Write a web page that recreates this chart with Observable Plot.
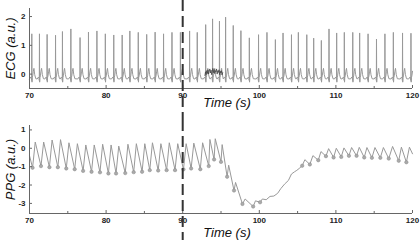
<!DOCTYPE html>
<html><head><meta charset="utf-8">
<script src="https://cdn.jsdelivr.net/npm/d3@7"></script>
<script src="https://cdn.jsdelivr.net/npm/@observablehq/plot@0.6"></script>
<style>
html,body{margin:0;padding:0;background:#fff;}
#wrap{position:relative;width:420px;height:240px;overflow:hidden;font-family:"Liberation Sans",Arial,sans-serif;}
#top,#bot{position:absolute;left:0;width:420px;height:120px;}
#top{top:0}#bot{top:120px}
svg{overflow:visible}
</style></head><body><div id="wrap"><div id="top"></div><div id="bot"></div></div>
<script>
// ---- axes ----
const xDomain = [70, 120];
const xTicks = [70, 80, 90, 100, 110, 120];
const xMinorTicks = [75, 85, 95, 105, 115];
const ecgDomain = [-0.5, 2.28];
const ecgTicks = [0, 1, 2];
const ppgDomain = [-3.55, 1.24];
const ppgTicks = [-3, -2, -1, 0, 1];
const eventTime = [90];
const xLabel = "Time (s)";
const ecgLabel = "ECG (a.u.)";
const ppgLabel = "PPG (a.u.)";

// ---- ECG: R-peak times and heights ----
const ecgBeatT = [70.3,71.3,72.3,73.4,74.3,75.4,76.6,77.7,78.8,79.9,81.0,82.1,83.1,84.2,85.3,86.4,87.5,88.6,89.7,90.9,91.9,93.0,93.9,94.8,95.6,96.6,97.6,98.7,99.9,101.0,102.1,103.1,104.2,105.1,106.2,107.1,108.1,109.1,110.1,111.1,112.2,113.1,114.2,115.3,116.4,117.5,118.7,119.8];
const ecgBeatPeak = [1.40,1.40,1.38,1.35,1.48,1.57,1.27,1.46,1.50,1.40,1.36,1.36,1.50,1.45,1.38,1.46,1.40,1.45,1.45,1.50,1.45,1.72,1.92,1.84,1.98,1.69,1.51,1.26,1.37,1.45,1.20,1.43,1.37,1.45,1.37,1.25,1.17,1.57,1.43,1.45,1.45,1.43,1.40,1.22,1.40,1.45,1.43,1.42];
// beat waveform around each R peak (offset in s, value; null = R peak)
const ecgShapeDt = [-0.30,-0.12,-0.05,-0.02,0,0.025,0.06,0.12,0.20,0.28,0.38,0.52];
const ecgShapeV  = [-0.17,-0.10,-0.14,-0.22,null,-0.28,-0.12,-0.06,0.10,0.20,-0.02,-0.16];
// noisy stretch
const ecgNoiseT = [92.9,92.98,93.06,93.14,93.22,93.3,93.38,93.46,93.54,93.62,93.7,93.78,93.86,93.94,94.02,94.1,94.18,94.26,94.34,94.42,94.5,94.58,94.66,94.74,94.82,94.9,94.98,95.06,95.14,95.22];
const ecgNoiseV = [-0.05,0.08,-0.02,0.12,0.02,0.15,0.0,0.1,0.18,0.04,0.14,-0.02,0.1,0.2,0.05,0.16,0.02,0.12,0.08,0.18,0.0,0.12,0.06,0.15,-0.02,0.1,0.04,0.12,-0.03,0.05];

// ---- PPG ----
const ppgT = [70.0,70.4,70.75,71.5,71.85,72.6,72.95,73.7,74.05,74.8,75.15,75.9,76.25,77.0,77.35,78.1,78.45,79.2,79.55,80.3,80.65,81.3,81.65,82.5,82.85,83.6,83.95,84.7,85.05,85.7,86.05,86.8,87.15,87.9,88.25,89.0,89.35,90.1,90.45,91.1,91.45,92.3,92.6,93.4,93.55,94.1,94.25,95.0,95.15,95.8,96.0,96.7,96.9,97.8,98.15,99.2,99.5,100.1,100.4,100.9,101.4,101.9,102.4,102.8,103.3,103.8,104.2,104.6,104.9,105.2,105.6,105.95,106.6,107.0,107.7,108.05,108.7,109.05,109.7,110.05,110.7,111.05,111.7,112.05,112.7,113.05,113.7,114.05,114.7,115.1,115.8,116.2,116.9,117.4,118.2,118.55,119.2,119.6,120.0];
const ppgV = [-0.40,-1.06,0.34,-0.97,0.34,-1.03,0.45,-1.03,0.47,-1.10,0.30,-1.14,0.25,-1.23,0.18,-1.28,0.18,-1.31,0.22,-1.37,0.18,-1.37,0.12,-1.35,0.22,-1.30,0.25,-1.28,0.25,-1.19,0.30,-1.21,0.25,-1.19,0.30,-1.19,0.25,-1.15,0.25,-1.10,0.28,-1.14,0.30,-0.97,0.48,-0.61,0.52,-0.74,0.20,-1.55,-0.92,-2.30,-1.86,-3.03,-2.76,-3.17,-2.86,-2.94,-2.76,-2.80,-2.62,-2.60,-2.45,-2.20,-1.95,-1.75,-1.40,-1.28,-1.20,-1.10,-0.95,-0.62,-0.88,-0.40,-0.65,-0.18,-0.43,-0.02,-0.50,0.00,-0.47,0.02,-0.41,0.04,-0.41,0.05,-0.50,0.04,-0.52,0.04,-0.52,0.04,-0.56,0.10,-0.68,0.06,-0.76,0.06,-0.30];
const ppgTroughT = [70.4,71.5,72.6,73.7,74.8,75.9,77.0,78.1,79.2,80.3,81.3,82.5,83.6,84.7,85.7,86.8,87.9,89.0,90.1,91.1,92.3,93.4,94.1,95.0,95.8,96.7,97.8,99.2,100.1,105.6,106.6,107.7,108.7,109.7,110.7,111.7,112.7,113.7,114.7,115.8,116.9,118.2,119.2];
const ppgTroughV = [-1.06,-0.97,-1.03,-1.03,-1.10,-1.14,-1.23,-1.28,-1.31,-1.37,-1.37,-1.35,-1.30,-1.28,-1.19,-1.21,-1.19,-1.19,-1.15,-1.10,-1.14,-0.97,-0.61,-0.74,-1.55,-2.30,-3.03,-3.17,-2.94,-0.95,-0.88,-0.65,-0.43,-0.50,-0.47,-0.41,-0.41,-0.50,-0.52,-0.52,-0.56,-0.68,-0.76];

// ---- build tables ----
const ecg = [];
ecgBeatT.forEach((bt, i) => {
  ecgShapeDt.forEach((dt, j) => {
    const t = bt + dt;
    if (t >= xDomain[0] && t <= xDomain[1]) ecg.push({t, v: ecgShapeV[j] === null ? ecgBeatPeak[i] : ecgShapeV[j]});
  });
});
ecg.sort((a, b) => a.t - b.t);
const noise = ecgNoiseT.map((t, i) => ({t, v: ecgNoiseV[i]}));
const ppg = ppgT.map((t, i) => ({t, v: ppgV[i]}));
const troughs = ppgTroughT.map((t, i) => ({t, v: ppgTroughV[i]}));

const W = 420, H = 120, ML = 29, MR = 8;
const frameW = W - ML - MR;
const font = "'Liberation Sans', Arial, sans-serif";
const axisColor = "#666";
const fmt = d => String(d);

function panel({yDomain, yTicks, mt, mb, label, dashTop, dashBottom, extra, timeDy}) {
  const frameH = H - mt - mb;
  return Plot.plot({
    width: W, height: H, marginLeft: ML, marginRight: MR, marginTop: mt, marginBottom: mb,
    x: {domain: xDomain, axis: null},
    y: {domain: yDomain, axis: null},
    style: {fontFamily: font, background: "transparent", overflow: "visible"},
    marks: [
      ...extra,
      Plot.ruleY([yDomain[0]], {stroke: axisColor, strokeWidth: 1}),
      Plot.ruleX([xDomain[0]], {stroke: axisColor, strokeWidth: 1}),
      Plot.ruleX(xTicks, {stroke: axisColor, insetTop: frameH - 3}),
      Plot.ruleX(xMinorTicks, {stroke: axisColor, insetTop: frameH - 2}),
      Plot.ruleY(yTicks, {stroke: axisColor, insetRight: frameW - 3}),
      Plot.axisX({ticks: xTicks, tickFormat: fmt, tickSize: 0, tickPadding: 4, fontSize: 8, fontWeight: "bold", fill: "#222", label: null}),
      Plot.axisY({ticks: yTicks, tickFormat: fmt, tickSize: 0, tickPadding: 4, fontSize: 8, fontWeight: "bold", fill: "#222", label: null}),
      Plot.ruleX(eventTime, {stroke: "#333", strokeWidth: 2, strokeDasharray: "11,5", insetTop: -dashTop, insetBottom: -dashBottom}),
      Plot.text([label], {text: d => d, frameAnchor: "left", rotate: -90, dx: -19, textAnchor: "middle", lineAnchor: "middle", fontSize: 13, fontStyle: "italic", fill: "#111"}),
      Plot.text([xLabel], {text: d => d, frameAnchor: "bottom", dx: 6, dy: timeDy, textAnchor: "middle", lineAnchor: "middle", fontSize: 13, fontStyle: "italic", fill: "#111"})
    ]
  });
}

document.getElementById("top").append(panel({
  yDomain: ecgDomain, yTicks: ecgTicks, mt: 8, mb: 32, label: ecgLabel, dashTop: 8, dashBottom: 32, timeDy: 14,
  extra: [
    Plot.line(ecg, {x: "t", y: "v", stroke: "#999", strokeWidth: 1}),
    Plot.line(noise, {x: "t", y: "v", stroke: "#444", strokeWidth: 0.8})
  ]
}));

document.getElementById("bot").append(panel({
  yDomain: ppgDomain, yTicks: ppgTicks, mt: 5, mb: 27, label: ppgLabel, dashTop: 5, dashBottom: 27, timeDy: 19,
  extra: [
    Plot.line(ppg, {x: "t", y: "v", stroke: "#999", strokeWidth: 1}),
    Plot.dot(troughs, {x: "t", y: "v", r: 1.7, fill: "#aaa", stroke: "#888", strokeWidth: 0.5})
  ]
}));
</script></body></html>
